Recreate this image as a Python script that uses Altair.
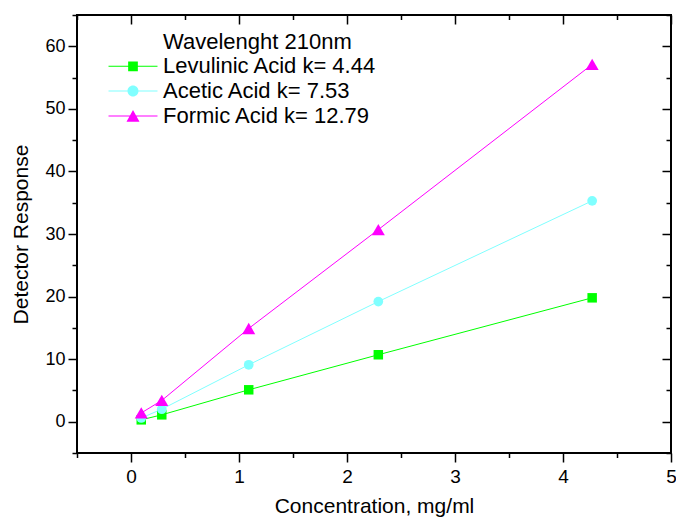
import altair as alt
import pandas as pd

# ---- data ----
concentration = [0.095, 0.285, 1.09, 2.29, 4.27]
levulinic = [0.3, 1.1, 5.1, 10.7, 19.8]
acetic = [0.6, 2.0, 9.1, 19.2, 35.3]
formic = [1.4, 3.4, 14.9, 30.7, 57.1]

legend_heading = "Wavelenght 210nm"
series_names = ["Levulinic Acid k= 4.44", "Acetic Acid k= 7.53", "Formic Acid k= 12.79"]
series_colors = ["#00ff00", "#80ffff", "#ff00ff"]
marker_shapes = ["square", "circle", "triangle-up"]
marker_sizes = [90, 95, 170]

x_major = [0, 1, 2, 3, 4, 5]
x_minor = [-0.5, 0.5, 1.5, 2.5, 3.5, 4.5]
x_all = [-0.5, 0, 0.5, 1, 1.5, 2, 2.5, 3, 3.5, 4, 4.5, 5]
y_major = [0, 10, 20, 30, 40, 50, 60]
y_minor = [-5, 5, 15, 25, 35, 45, 55, 65]
y_all = [-5, 0, 5, 10, 15, 20, 25, 30, 35, 40, 45, 50, 55, 60, 65]

# legend symbols: a thin line with the marker on it (unit = sqrt(symbolSize)/2)
seg = "M-2.333,-0.048H2.333V0.048H-2.333Z"
legend_paths = [
    "M0,0",
    seg + "M-0.462,-0.462H0.462V0.462H-0.462Z",
    seg + "M0.524,0A0.524,0.524 0 1,1 -0.524,0A0.524,0.524 0 1,1 0.524,0Z",
    seg + "M0,-0.557L0.619,0.557H-0.619Z",
]
legend_domain = [legend_heading] + series_names
legend_fill = ["transparent"] + series_colors

rows = []
for name, vals in zip(series_names, [levulinic, acetic, formic]):
    for c, v in zip(concentration, vals):
        rows.append({"conc": c, "resp": v, "series": name})
df = pd.DataFrame(rows)

FONT = "Liberation Sans"
x_scale = alt.Scale(domain=[-0.5, 5], nice=False, zero=False)
y_scale = alt.Scale(domain=[-5, 65], nice=False, zero=False)
color_scale = alt.Scale(domain=series_names, range=series_colors)

common_axis = dict(grid=False, domain=False, tickColor="black", tickWidth=1.5)

x_bottom = alt.Axis(
    orient="bottom", values=x_all,
    tickSize={"condition": {"test": "datum.value % 1 === 0", "value": 9}, "value": 4.5},
    labelExpr="datum.value % 1 === 0 ? format(datum.value, 'd') : ''",
    labelFlush=False, labelOverlap=False, labelFont=FONT, labelFontSize=19,
    labelColor="black", labelPadding=5,
    title="Concentration, mg/ml", titleFont=FONT, titleFontSize=21,
    titleFontWeight="normal", titleColor="black", titlePadding=9,
    **common_axis,
)
y_left = alt.Axis(
    orient="left", values=y_all,
    tickSize={"condition": {"test": "datum.value % 10 === 0", "value": 9}, "value": 5},
    labelExpr="datum.value % 10 === 0 ? format(datum.value, 'd') : ''",
    labelFlush=False, labelOverlap=False, labelFont=FONT, labelFontSize=18,
    labelColor="black", labelPadding=3,
    title="Detector Response", titleFont=FONT, titleFontSize=21,
    titleFontWeight="normal", titleColor="black", titlePadding=13,
    **common_axis,
)
x_top_major = alt.Axis(orient="top", values=x_major, tickSize=9, offset=-9,
                       labels=False, title=None, **common_axis)
y_right_major = alt.Axis(orient="right", values=y_major, tickSize=9, offset=-9,
                         labels=False, title=None, **common_axis)
x_top_minor = alt.Axis(orient="top", values=x_minor, tickSize=4.5, offset=-4.5,
                       labels=False, title=None, **common_axis)
y_right_minor = alt.Axis(orient="right", values=y_minor, tickSize=5, offset=-5,
                         labels=False, title=None, **common_axis)

base = alt.Chart(df)

lines = base.mark_line(strokeWidth=1).encode(
    x=alt.X("conc:Q", scale=x_scale, axis=x_bottom),
    y=alt.Y("resp:Q", scale=y_scale, axis=y_left),
    color=alt.Color("series:N", scale=color_scale, legend=None),
)

point_layers = []
for i, (name, shp, sz) in enumerate(zip(series_names, marker_shapes, marker_sizes)):
    if i == 0:
        xa, ya = x_top_major, y_right_major
    else:
        xa, ya = None, None
    point_layers.append(
        base.transform_filter(alt.datum.series == name)
        .mark_point(filled=True, opacity=1, strokeWidth=0, shape=shp, size=sz)
        .encode(
            x=alt.X("conc:Q", scale=x_scale, axis=xa),
            y=alt.Y("resp:Q", scale=y_scale, axis=ya),
            color=alt.Color("series:N", scale=color_scale, legend=None),
        )
    )

leg = alt.Legend(
    orient="none", legendX=31, legendY=15.5, direction="vertical", title=None,
    symbolSize=441, symbolStrokeWidth=0, symbolOffset=14, symbolOpacity=1,
    labelFont=FONT, labelFontSize=22, labelColor="black", labelOffset=19,
    labelLimit=400, rowPadding=2.8, padding=0,
)

legend_layer = base.mark_point(filled=True, strokeWidth=0, opacity=1).encode(
    x=alt.X("conc:Q", scale=x_scale, axis=x_top_minor),
    y=alt.Y("resp:Q", scale=y_scale, axis=y_right_minor),
    fill=alt.Fill("series:N", scale=alt.Scale(domain=legend_domain, range=legend_fill), legend=leg),
    shape=alt.Shape("series:N", scale=alt.Scale(domain=legend_domain, range=legend_paths), legend=leg),
).transform_filter("false")

chart = alt.layer(lines, *point_layers, legend_layer).resolve_axis(
    x="independent", y="independent"
).properties(
    width=594, height=438,
    autosize=alt.AutoSizeParams(type="none"),
    padding={"left": 77, "top": 15, "right": 5, "bottom": 67},
).configure(
    font=FONT, background="white"
).configure_view(
    stroke="black", strokeWidth=2
)

chart.save("out.html", embed_options={"renderer": "svg", "actions": False})
